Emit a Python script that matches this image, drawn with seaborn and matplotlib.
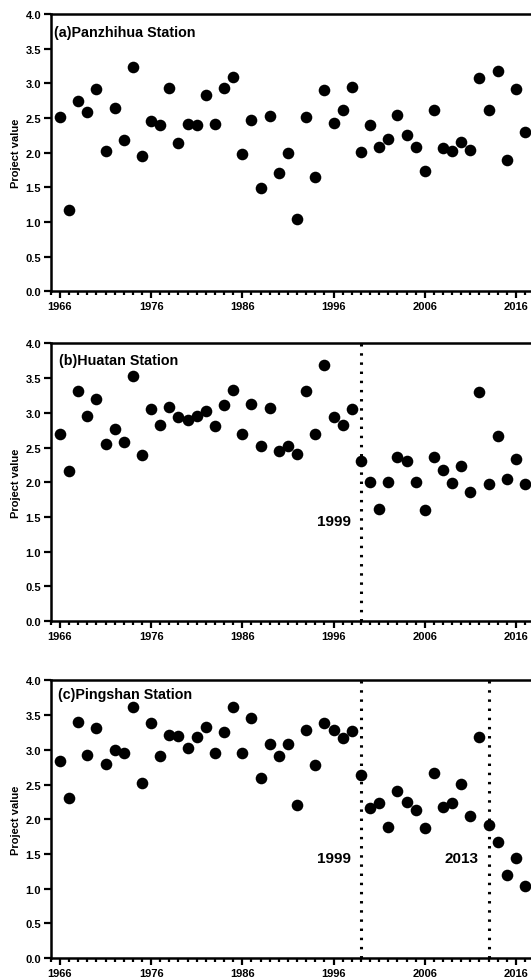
import numpy as np
import pandas as pd
import seaborn as sns
import matplotlib
matplotlib.use("Agg")
import matplotlib.pyplot as plt
from matplotlib.ticker import MultipleLocator, FormatStrFormatter

years = list(range(1966, 2018))

panzhihua = [2.52, 1.17, 2.75, 2.59, 2.92, 2.02, 2.64, 2.19, 3.24, 1.95,
             2.46, 2.40, 2.94, 2.14, 2.41, 2.40, 2.83, 2.41, 2.93, 3.09,
             1.98, 2.47, 1.49, 2.53, 1.70, 2.00, 1.04, 2.51, 1.65, 2.90,
             2.43, 2.62, 2.95, 2.01, 2.40, 2.08, 2.20, 2.55, 2.26, 2.08,
             1.74, 2.62, 2.07, 2.03, 2.15, 2.04, 3.08, 2.62, 3.18, 1.90,
             2.92, 2.30]

huatan = [2.69, 2.16, 3.31, 2.95, 3.20, 2.55, 2.77, 2.58, 3.53, 2.40,
          3.05, 2.83, 3.08, 2.94, 2.90, 2.96, 3.03, 2.81, 3.12, 3.33,
          2.69, 3.13, 2.52, 3.07, 2.45, 2.52, 2.41, 3.32, 2.70, 3.69,
          2.94, 2.83, 3.06, 2.30, 2.01, 1.62, 2.01, 2.37, 2.30, 2.00,
          1.60, 2.36, 2.17, 1.99, 2.24, 1.86, 3.30, 1.97, 2.66, 2.05,
          2.33, 1.97]

pingshan = [2.84, 2.30, 3.40, 2.93, 3.32, 2.80, 2.99, 2.95, 3.61, 2.52,
            3.39, 2.91, 3.21, 3.20, 3.02, 3.19, 3.33, 2.96, 3.25, 3.61,
            2.96, 3.46, 2.59, 3.08, 2.91, 3.08, 2.20, 3.29, 2.78, 3.39,
            3.29, 3.17, 3.27, 2.64, 2.16, 2.23, 1.89, 2.40, 2.25, 2.13,
            1.87, 2.66, 2.18, 2.24, 2.51, 2.04, 3.18, 1.92, 1.67, 1.20,
            1.44, 1.04]

titles = ["(a)Panzhihua Station", "(b)Huatan Station", "(c)Pingshan Station"]
breaks = [[], [1999], [1999, 2013]]
y_ticks = [0.0, 0.5, 1.0, 1.5, 2.0, 2.5, 3.0, 3.5, 4.0]
x_major = [1966, 1976, 1986, 1996, 2006, 2016]

sns.set_style("ticks")
plt.rcParams["font.family"] = ["Liberation Sans", "DejaVu Sans"]
plt.rcParams["font.weight"] = "bold"
for key in ["text.color", "axes.labelcolor", "xtick.color", "ytick.color",
            "axes.edgecolor"]:
    plt.rcParams[key] = "black"

fig = plt.figure(figsize=(5.31, 9.78), dpi=100)
W, H = 531, 978
left_px = 50.8
panels_px = [(15.2, 292.2), (344.4, 622.2), (681.3, 959.2)]
title_pos = [(0.007, 0.937), (0.018, 0.942), (0.014, 0.951)]

series = [panzhihua, huatan, pingshan]
for i, (top, bot) in enumerate(panels_px):
    ax = fig.add_axes([left_px / W, 1 - bot / H, 1 - left_px / W, (bot - top) / H])
    df = pd.DataFrame({"Year": years, "Value": series[i]})
    sns.scatterplot(data=df, x="Year", y="Value", ax=ax, color="black",
                    s=70, edgecolor="black", linewidth=0, zorder=3)
    ax.set_xlim(1965, 2017.65)
    ax.set_ylim(0, 4.0)
    ax.set_yticks(y_ticks)
    ax.yaxis.set_major_formatter(FormatStrFormatter("%.1f"))
    ax.set_xticks(x_major)
    ax.xaxis.set_minor_locator(MultipleLocator(1))
    ax.tick_params(axis="both", which="major", direction="out", length=5,
                   width=1.6, labelsize=8, pad=2, colors="black")
    ax.tick_params(axis="x", which="minor", direction="out", length=3,
                   width=1.6, colors="black")
    for lab in ax.get_xticklabels() + ax.get_yticklabels():
        lab.set_fontweight("bold")
        lab.set_color("black")
    for side in ["left", "bottom", "top"]:
        ax.spines[side].set_linewidth(1.8)
        ax.spines[side].set_color("black")
    ax.spines["right"].set_visible(False)
    ax.set_xlabel("")
    ax.set_ylabel("Project value", fontsize=8, fontweight="bold", labelpad=3,
                  color="black")
    ax.text(title_pos[i][0], title_pos[i][1], titles[i], transform=ax.transAxes,
            fontsize=10.3, fontweight="bold", ha="left", va="center", color="black")
    for b in breaks[i]:
        ax.axvline(b, color="black", lw=2.2, linestyle=(0, (0.8, 2.2)), zorder=2)
        ax.text(b - 1.1, 1.44, str(b), fontsize=11, fontweight="bold",
                ha="right", va="center", color="black")

fig.savefig("out.png", dpi=100)
